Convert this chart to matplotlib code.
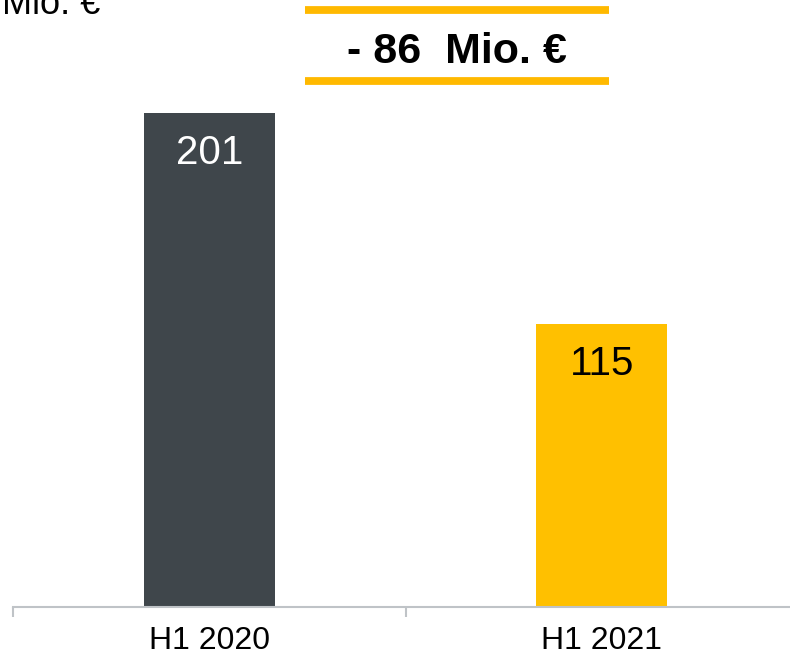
import matplotlib.pyplot as plt
from matplotlib.lines import Line2D

# Daten
kategorien = ['H1 2020', 'H1 2021']
werte = [201, 115]
farben = ['#3F464B', '#FFC000']
textfarben = ['white', 'black']
einheit = 'Mio. €'

plt.rcParams['font.family'] = ['Liberation Sans', 'DejaVu Sans']

fig = plt.figure(figsize=(7.9, 6.61), dpi=100)
# Achse reicht rechts etwas über den Bildrand hinaus (wie im Original)
ax = fig.add_axes([13 / 790, 1 - 607 / 661, 785 / 790, 607 / 661])

x = list(range(len(kategorien)))
bars = ax.bar(x, werte, width=0.334, color=farben, zorder=2)

for b, w, c in zip(bars, werte, textfarben):
    ax.annotate(str(w), (b.get_x() + b.get_width() / 2, b.get_height()),
                xytext=(0, -36.5), textcoords='offset points',
                ha='center', va='baseline', fontsize=29, color=c)

ax.set_xlim(-0.5, len(kategorien) - 0.5)
ax.set_ylim(0, 607 / (494 / 201))

for s in ['top', 'right', 'left']:
    ax.spines[s].set_visible(False)
ax.spines['bottom'].set_color('#BFC3C7')
ax.spines['bottom'].set_linewidth(1.5)

ax.set_yticks([])
ax.set_xticks(x)
ax.set_xticklabels(kategorien, fontsize=23)
ax.tick_params(axis='x', which='major', length=0, pad=14)
ax.set_xticks([i - 0.5 for i in range(len(kategorien) + 1)], minor=True)
ax.tick_params(axis='x', which='minor', length=7.2, width=1.5, color='#BFC3C7')

# Einheit oben links (im Original oben angeschnitten)
fig.text(2 / 790, 1 - 14 / 661, einheit, fontsize=26, ha='left', va='baseline')

# Differenz mit gelben Linien
diff = werte[1] - werte[0]
fig.text(457 / 790, 1 - 63 / 661, f'- {abs(diff)}  {einheit}', fontsize=31,
         fontweight='bold', ha='center', va='baseline')
for yp in [10, 80.5]:
    fig.add_artist(Line2D([305 / 790, 609 / 790], [1 - yp / 661, 1 - yp / 661],
                          transform=fig.transFigure, color='#FFB900',
                          linewidth=5.6, solid_capstyle='butt'))

fig.savefig('out.png', dpi=100)
